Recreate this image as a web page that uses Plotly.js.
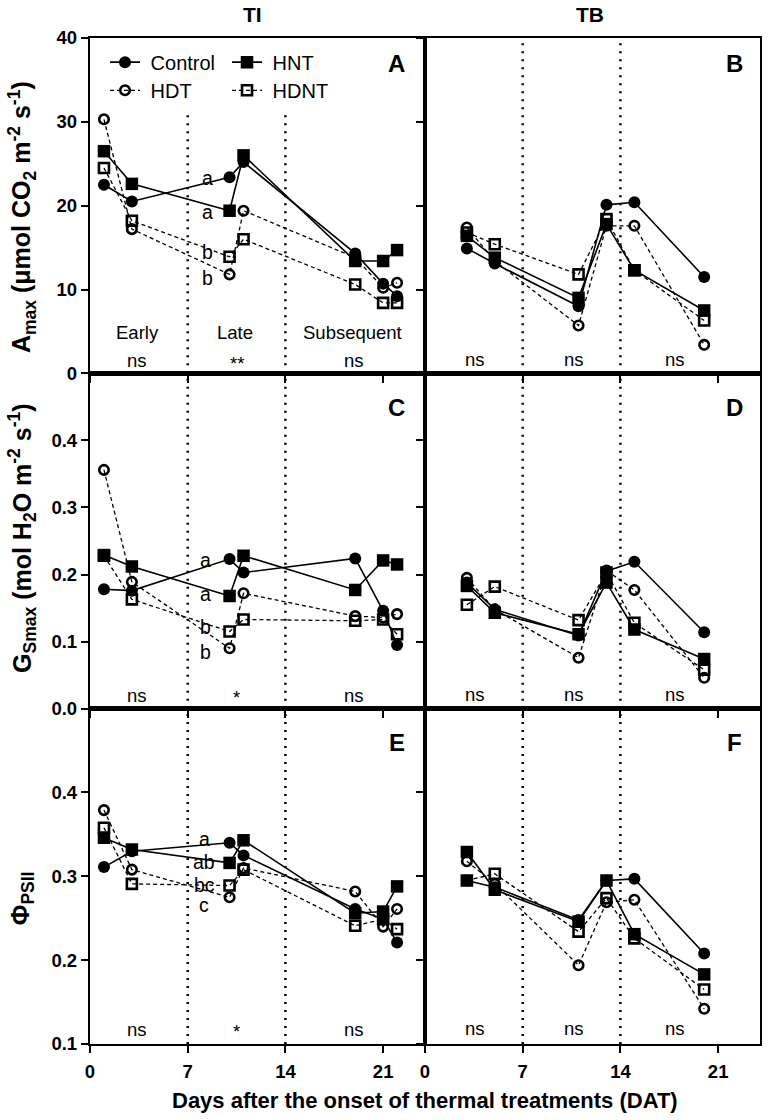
<!DOCTYPE html>
<html><head><meta charset="utf-8">
<script src="https://cdn.plot.ly/plotly-3.0.1.min.js"></script>
<style>body{margin:0;background:#fff}#chart{width:768px;height:1120px}</style>
</head><body><div id="chart"></div>
<script>
// ---------- data ----------
const treatments = ['Control', 'HNT', 'HDT', 'HDNT'];
const daysTI = [1, 3, 10, 11, 19, 21, 22];
const daysTB = [3, 5, 11, 13, 15, 20];

// A: Amax, TI
const amaxTI_Control = [22.5, 20.5, 23.4, 25.2, 14.3, 10.7, 9.2];
const amaxTI_HNT     = [26.5, 22.6, 19.4, 26.0, 13.4, 13.4, 14.7];
const amaxTI_HDT     = [30.3, 17.2, 11.8, 19.4, 13.8, 10.2, 10.8];
const amaxTI_HDNT    = [24.5, 18.2, 13.9, 16.0, 10.6, 8.4, 8.4];
// B: Amax, TB
const amaxTB_Control = [14.9, 13.1, 8.0, 20.1, 20.4, 11.5];
const amaxTB_HNT     = [16.4, 13.8, 9.0, 17.8, 12.3, 7.5];
const amaxTB_HDT     = [17.4, 13.4, 5.7, 17.6, 17.6, 3.4];
const amaxTB_HDNT    = [16.8, 15.4, 11.8, 18.4, 12.3, 6.3];
// C: Gsmax, TI
const gsTI_Control = [0.178, 0.176, 0.223, 0.203, 0.224, 0.146, 0.095];
const gsTI_HNT     = [0.229, 0.212, 0.168, 0.228, 0.177, 0.221, 0.215];
const gsTI_HDT     = [0.356, 0.189, 0.090, 0.172, 0.138, 0.136, 0.141];
const gsTI_HDNT    = [0.228, 0.163, 0.115, 0.133, 0.131, 0.133, 0.111];
// D: Gsmax, TB
const gsTB_Control = [0.188, 0.148, 0.109, 0.205, 0.219, 0.114];
const gsTB_HNT     = [0.183, 0.143, 0.111, 0.188, 0.118, 0.074];
const gsTB_HDT     = [0.195, 0.148, 0.076, 0.206, 0.177, 0.046];
const gsTB_HDNT    = [0.155, 0.182, 0.132, 0.203, 0.128, 0.058];
// E: PhiPSII, TI
const phiTI_Control = [0.311, 0.330, 0.340, 0.325, 0.261, 0.249, 0.221];
const phiTI_HNT     = [0.346, 0.332, 0.316, 0.343, 0.256, 0.258, 0.288];
const phiTI_HDT     = [0.379, 0.308, 0.275, 0.310, 0.282, 0.240, 0.261];
const phiTI_HDNT    = [0.358, 0.291, 0.289, 0.308, 0.241, 0.249, 0.237];
// F: PhiPSII, TB
const phiTB_Control = [0.295, 0.287, 0.248, 0.295, 0.297, 0.208];
const phiTB_HNT     = [0.329, 0.284, 0.246, 0.295, 0.231, 0.183];
const phiTB_HDT     = [0.318, 0.291, 0.194, 0.269, 0.272, 0.142];
const phiTB_HDNT    = [0.295, 0.303, 0.234, 0.274, 0.226, 0.165];

const columnTitles = ['TI', 'TB'];
const panelLetters = ['A', 'B', 'C', 'D', 'E', 'F'];
const periodLabels = ['Early', 'Late', 'Subsequent'];
const sigA = ['ns', '**', 'ns'];
const sigB = ['ns', 'ns', 'ns'];
const sigC = ['ns', '*', 'ns'];
const sigD = ['ns', 'ns', 'ns'];
const sigE = ['ns', '*', 'ns'];
const sigF = ['ns', 'ns', 'ns'];
const lettersA = ['a', 'a', 'b', 'b'];
const lettersC = ['a', 'a', 'b', 'b'];
const lettersE = ['a', 'ab', 'bc', 'c'];
const xTickVals = [0, 7, 14, 21];
const yTicksAmax = [0, 10, 20, 30, 40];
const yTicksGs = [0, 0.1, 0.2, 0.3, 0.4];
const yTicksPhi = [0.1, 0.2, 0.3, 0.4];
const periodBounds = [7, 14];
const yTitleAmax = '<b>A<sub>max</sub> (μmol CO<sub>2</sub> m<sup>-2</sup> s<sup>-1</sup>)</b>';
const yTitleGs = '<b>G<sub>Smax</sub> (mol H<sub>2</sub>O m<sup>-2</sup> s<sup>-1</sup>)</b>';
const yTitlePhi = '<b>Φ<sub>PSII</sub></b>';
const xTitle = '<b>Days after the onset of thermal treatments (DAT)</b>';

// ---------- styling ----------
const FONT = 'Liberation Sans, Arial, Helvetica, sans-serif';
const sty = {
  Control: {symbol: 'circle', size: 12, dash: 'solid', lw: 1.6, mlw: 0},
  HNT:     {symbol: 'square', size: 12.5, dash: 'solid', lw: 1.6, mlw: 0},
  HDT:     {symbol: 'circle-open', size: 9.5, dash: '4px,3px', lw: 1.3, mlw: 2.6},
  HDNT:    {symbol: 'square-open', size: 10, dash: '4px,3px', lw: 1.3, mlw: 2.6}
};

const panels = [
  {xa: 'x',  ya: 'y',  days: daysTI, s: [amaxTI_Control, amaxTI_HNT, amaxTI_HDT, amaxTI_HDNT]},
  {xa: 'x2', ya: 'y2', days: daysTB, s: [amaxTB_Control, amaxTB_HNT, amaxTB_HDT, amaxTB_HDNT]},
  {xa: 'x3', ya: 'y3', days: daysTI, s: [gsTI_Control, gsTI_HNT, gsTI_HDT, gsTI_HDNT]},
  {xa: 'x4', ya: 'y4', days: daysTB, s: [gsTB_Control, gsTB_HNT, gsTB_HDT, gsTB_HDNT]},
  {xa: 'x5', ya: 'y5', days: daysTI, s: [phiTI_Control, phiTI_HNT, phiTI_HDT, phiTI_HDNT]},
  {xa: 'x6', ya: 'y6', days: daysTB, s: [phiTB_Control, phiTB_HNT, phiTB_HDT, phiTB_HDNT]}
];

const traces = [];
panels.forEach((p, pi) => {
  treatments.forEach((t, ti) => {
    const st = sty[t];
    traces.push({
      type: 'scatter', mode: 'lines+markers', name: '\u00a0' + t,
      x: p.days, y: p.s[ti], xaxis: p.xa, yaxis: p.ya,
      line: {color: 'black', width: st.lw, dash: st.dash},
      marker: {symbol: st.symbol, size: st.size, color: 'black', line: {color: 'black', width: st.mlw}},
      showlegend: pi === 0,
      legend: (ti < 2) ? 'legend' : 'legend2',
      cliponaxis: false, hoverinfo: 'x+y'
    });
  });
});

const rowDomains = [[2/3, 1], [1/3, 2/3], [0, 1/3]];
const colDomains = [[0, 0.5], [0.5, 1]];
const yRanges = [[0, 40], [0, 0.5], [0.1, 0.5]];
const yTickSets = [yTicksAmax, yTicksGs, yTicksPhi];

const legendBase = {x: 0.0224, xanchor: 'left', yanchor: 'middle', orientation: 'h',
  entrywidth: 77, entrywidthmode: 'pixels', bgcolor: 'white', borderwidth: 0,
  font: {family: FONT, size: 20, color: 'black'}};

const layout = {
  width: 768, height: 1120,
  margin: {l: 90, r: 8, t: 38, b: 76},
  paper_bgcolor: 'white', plot_bgcolor: 'white',
  font: {family: FONT, color: 'black', size: 18},
  showlegend: true,
  legend: Object.assign({}, legendBase, {y: 0.976}),
  legend2: Object.assign({}, legendBase, {y: 0.948}),
  shapes: [], annotations: []
};

panels.forEach((p, pi) => {
  const row = Math.floor(pi / 2), col = pi % 2;
  const xk = 'xaxis' + (pi === 0 ? '' : pi + 1);
  const yk = 'yaxis' + (pi === 0 ? '' : pi + 1);
  layout[xk] = {
    domain: colDomains[col], anchor: p.ya, range: [0, 24],
    tickvals: xTickVals, ticks: 'outside', ticklen: 7, tickwidth: 2, tickcolor: 'black',
    showticklabels: row === 2, ticklabelstandoff: 3,
    tickfont: {family: FONT, size: 18.5, weight: 'bold', color: 'black'},
    showline: true, linewidth: 2.2, linecolor: 'black', mirror: true,
    showgrid: false, zeroline: false, fixedrange: true
  };
  layout[yk] = {
    domain: rowDomains[row], anchor: p.xa, range: yRanges[row],
    tickvals: yTickSets[row], tickformat: row === 0 ? 'd' : '.1f',
    ticks: 'outside', ticklen: 7, tickwidth: 2, tickcolor: 'black',
    showticklabels: col === 0,
    tickfont: {family: FONT, size: 18.5, weight: 'bold', color: 'black'},
    showline: true, linewidth: 2.2, linecolor: 'black', mirror: true,
    showgrid: false, zeroline: false, fixedrange: true
  };
  periodBounds.forEach(b => {
    layout.shapes.push({type: 'line', xref: p.xa, yref: p.ya + ' domain', x0: b, x1: b, y0: 0, y1: 1,
      line: {color: 'black', width: 2.5, dash: '2px,6px'}, layer: 'below'});
  });
  layout.annotations.push({xref: p.xa + ' domain', yref: p.ya + ' domain', x: col === 0 ? 0.916 : 0.925,
    y: row === 0 ? 0.925 : 0.898, text: '<b>' + panelLetters[pi] + '</b>', showarrow: false,
    xanchor: 'center', yanchor: 'middle', font: {family: FONT, size: 24, color: 'black'}});
});

function ann(xa, ya, x, y, text, size) {
  layout.annotations.push({xref: xa, yref: ya, x: x, y: y, text: text, showarrow: false,
    xanchor: 'center', yanchor: 'middle', font: {family: FONT, size: size || 18, color: 'black'}});
}
// period labels (A)
[3.37, 10.4, 18.84].forEach((x, i) => ann('x', 'y', x, 4.93, periodLabels[i], 18.5));
// significance rows
const sigX_TI = [3.4, 10.5, 18.9];
const sigX_TB = [3.6, 10.7, 17.9];
const sigSets = [sigA, sigB, sigC, sigD, sigE, sigF];
const sigY = [1.5, 1.6, 0.02, 0.021, 0.117, 0.119];
const starDrop = [0.35, 0.35, 0.003, 0.002, 0.002, 0.002];
panels.forEach((p, pi) => {
  const xs = pi % 2 === 0 ? sigX_TI : sigX_TB;
  sigSets[pi].forEach((t, i) => {
    const y = t.indexOf('*') >= 0 ? sigY[pi] - starDrop[pi] : sigY[pi];
    ann(p.xa, p.ya, xs[i], y, t, 18.5);
  });
});
// post-hoc letters
[23.3, 19.25, 14.47, 11.37].forEach((y, i) => ann('x', 'y', 8.45, y, lettersA[i], 19.5));
[0.222, 0.171, 0.122, 0.0845].forEach((y, i) => ann('x3', 'y3', 8.25, y, lettersC[i], 19.5));
[0.3445, 0.317, 0.290, 0.266].forEach((y, i) => ann('x5', 'y5', 8.2, y, lettersE[i], 19.5));

// column titles
layout.annotations.push({xref: 'paper', yref: 'paper', x: 0.243, y: 1.0229, text: '<b>' + columnTitles[0] + '</b>',
  showarrow: false, xanchor: 'center', yanchor: 'middle', font: {family: FONT, size: 21}});
layout.annotations.push({xref: 'paper', yref: 'paper', x: 0.746, y: 1.0229, text: '<b>' + columnTitles[1] + '</b>',
  showarrow: false, xanchor: 'center', yanchor: 'middle', font: {family: FONT, size: 21}});
// y titles
[[yTitleAmax, 0.822], [yTitleGs, 0.503], [yTitlePhi, 0.145]].forEach(([t, y]) => {
  layout.annotations.push({xref: 'paper', yref: 'paper', x: -0.1015, y: y, text: t, textangle: -90,
    showarrow: false, xanchor: 'center', yanchor: 'middle', font: {family: FONT, size: 25}});
});
// x title
layout.annotations.push({xref: 'paper', yref: 'paper', x: 0.5, y: -0.0565, text: xTitle,
  showarrow: false, xanchor: 'center', yanchor: 'middle', font: {family: FONT, size: 22}});

Plotly.newPlot('chart', traces, layout, {staticPlot: true, displayModeBar: false});
</script></body></html>
